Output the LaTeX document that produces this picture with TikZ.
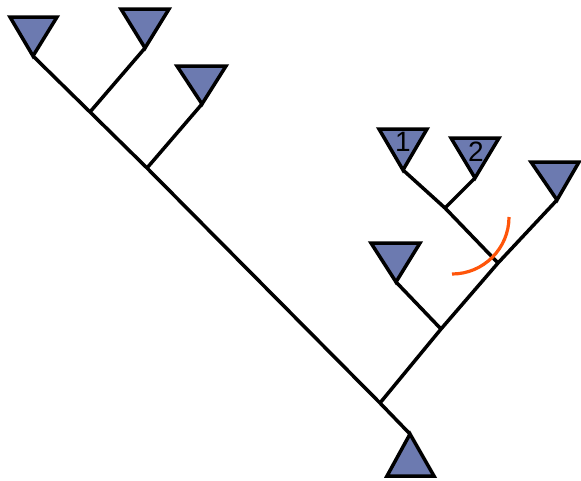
\documentclass[tikz,border=0pt]{standalone}
\usepackage{fontspec}
\setmainfont{Liberation Sans}
\definecolor{trifill}{RGB}{108,122,176}
\definecolor{arcorange}{RGB}{255,85,10}
\begin{document}
\begin{tikzpicture}[x=1pt,y=-1pt,
  edge/.style={line width=3.5pt,black},
  tri/.style={line width=3.5pt,draw=black,fill=trifill,line join=miter},
  lbl/.style={font=\fontsize{28}{28}\selectfont,inner sep=0pt}]
\useasboundingbox (0,0) rectangle (581,480);
% triangles (apex coordinates)
\coordinate (t1) at (33,56);
\coordinate (t2) at (145,48);
\coordinate (t3) at (202,104);
\coordinate (t4) at (403,170);
\coordinate (t5) at (475,178);
\coordinate (t6) at (557,200);
\coordinate (t7) at (396,282);
\coordinate (troot) at (410,434);
% junctions
\coordinate (jA) at (90,112);
\coordinate (jB) at (147,168);
\coordinate (jR) at (380,403);
\coordinate (jC) at (441,329);
\coordinate (jD) at (498,263);
\coordinate (jE) at (445,208);
% edges
\draw[edge] (t1) -- (jA) -- (jB) -- (jR) -- (troot);
\draw[edge] (t2) -- (jA);
\draw[edge] (t3) -- (jB);
\draw[edge] (jR) -- (jC) -- (jD) -- (t6);
\draw[edge] (t7) -- (jC);
\draw[edge] (t4) -- (jE) -- (jD);
\draw[edge] (t5) -- (jE);
% triangles
\draw[tri] (10,17) -- (57,17) -- (t1) -- cycle;
\draw[tri] (121,9) -- (169,9) -- (t2) -- cycle;
\draw[tri] (177,66) -- (226,66) -- (t3) -- cycle;
\draw[tri] (379,129) -- (427,129) -- (t4) -- cycle;
\draw[tri] (451,138) -- (499,138) -- (t5) -- cycle;
\draw[tri] (531,162) -- (579,162) -- (t6) -- cycle;
\draw[tri] (371,243) -- (420,243) -- (t7) -- cycle;
\draw[tri] (387,476) -- (434,476) -- (troot) -- cycle;
% labels
\node[lbl] (l1) at (403,142) {1};
\node[lbl] (l2) at (476,152) {2};
% arc
\draw[line width=3.2pt,arcorange] (452,274) arc[start angle=90,end angle=0,radius=57];
\end{tikzpicture}
\end{document}
